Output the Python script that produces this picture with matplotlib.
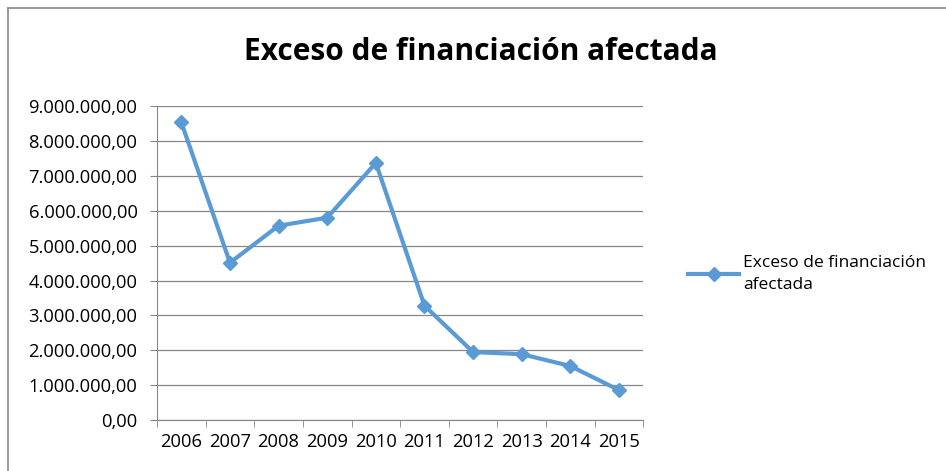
import matplotlib.pyplot as plt
from matplotlib.lines import Line2D
from matplotlib.ticker import FuncFormatter

# Data
years = ['2006', '2007', '2008', '2009', '2010', '2011', '2012', '2013', '2014', '2015']
exceso = [8530000, 4510000, 5570000, 5800000, 7370000, 3280000, 1950000, 1890000, 1550000, 860000]
series_label = 'Exceso de financiación\nafectada'
title = 'Exceso de financiación afectada'

plt.rcParams['font.family'] = ['Open Sans', 'DejaVu Sans']

fig = plt.figure(figsize=(9.46, 4.71), dpi=100)
ax = fig.add_axes([0.166, 0.108, 0.514, 0.667])

x = list(range(len(years)))
line, = ax.plot(x, exceso, color='#5B9BD5', linewidth=3, marker='D',
                markersize=7.5, label=series_label, zorder=3)

ax.set_xlim(-0.5, len(years) - 0.5)
ax.set_ylim(0, 9000000)
ax.set_yticks(range(0, 9000001, 1000000))


def es_format(v, pos):
    s = f'{v:,.2f}'
    return s.replace(',', 'X').replace('.', ',').replace('X', '.')


ax.yaxis.set_major_formatter(FuncFormatter(es_format))
ax.set_xticks(x)
ax.set_xticklabels(years)
ax.set_xticks([i - 0.5 for i in range(len(years) + 1)], minor=True)
ax.tick_params(axis='x', which='major', length=0, labelsize=13.2, pad=9)
ax.tick_params(axis='x', which='minor', length=5, color='#868686', direction='out')
ax.tick_params(axis='y', length=5, color='#868686', labelsize=13.2, pad=9)

ax.grid(axis='y', color='#868686', linewidth=0.9)
ax.set_axisbelow(True)
for side in ['top', 'right']:
    ax.spines[side].set_visible(False)
ax.spines['left'].set_color('#868686')
ax.spines['bottom'].set_color('#868686')

fig.text(0.508, 0.89, title, ha='center', va='center', fontsize=21.5, fontweight='bold')

ax.legend(handles=[line], loc='center left', bbox_to_anchor=(1.075, 0.465),
          frameon=False, fontsize=12.5, handlelength=2.9, handletextpad=0.25,
          borderpad=0)
for t in ax.get_legend().get_texts():
    t.set_linespacing(1.45)

# Outer chart border (top and left visible)
fig.add_artist(Line2D([8 / 946, 8 / 946], [0, 1 - 8 / 471], color='#898989', linewidth=1.2))
fig.add_artist(Line2D([8 / 946, 1], [1 - 8 / 471, 1 - 8 / 471], color='#898989', linewidth=1.2))

fig.savefig('out.png', dpi=100)
